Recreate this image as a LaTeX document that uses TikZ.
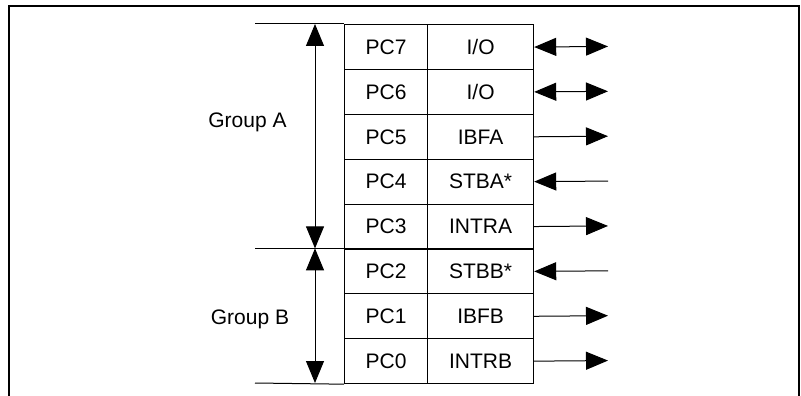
\documentclass[tikz,border=0pt]{standalone}
\usepackage{fontspec}
\setmainfont{Liberation Sans}
\usetikzlibrary{arrows.meta}
\begin{document}
\begin{tikzpicture}[x=1pt,y=-1pt,
  >={Triangle[length=22pt,width=18pt]},
  txt/.style={font=\fontsize{21}{24}\selectfont, inner sep=0pt},
  cell/.style={txt, draw, line width=1.2pt, minimum height=44.875pt, anchor=north west},
  namecell/.style={cell, minimum width=83pt},
  sigcell/.style={cell, minimum width=106pt},
  sig/.style={line width=1pt},
  dim/.style={line width=1pt}]
\useasboundingbox (0,0) rectangle (801,396);
% frame
\draw[line width=2pt] (8.7,396) -- (8.7,6) -- (799,6) -- (799,396);
% table
\node[namecell] (n7) at (344,24) {PC7};
\node[sigcell] (s7) at (427,24) {I/O};
\node[namecell] (n6) at (344,68.875) {PC6};
\node[sigcell] (s6) at (427,68.875) {I/O};
\node[namecell] (n5) at (344,113.75) {PC5};
\node[sigcell] (s5) at (427,113.75) {IBFA};
\node[namecell] (n4) at (344,158.625) {PC4};
\node[sigcell] (s4) at (427,158.625) {STBA*};
\node[namecell] (n3) at (344,203.5) {PC3};
\node[sigcell] (s3) at (427,203.5) {INTRA};
\node[namecell] (n2) at (344,248.375) {PC2};
\node[sigcell] (s2) at (427,248.375) {STBB*};
\node[namecell] (n1) at (344,293.25) {PC1};
\node[sigcell] (s1) at (427,293.25) {IBFB};
\node[namecell] (n0) at (344,338.125) {PC0};
\node[sigcell] (s0) at (427,338.125) {INTRB};
% right ends
\foreach \k in {0,...,7}{\coordinate (r\k) at (608, 383-44.875*\k-22.4375);}
\draw[sig,<->] (s7.east) -- (r7);
\draw[sig,<->] (s6.east) -- (r6);
\draw[sig,->] (s5.east) -- (r5);
\draw[sig,<-] (s4.east) -- (r4);
\draw[sig,->] (s3.east) -- (r3);
\draw[sig,<-] (s2.east) -- (r2);
\draw[sig,->] (s1.east) -- (r1);
\draw[sig,->] (s0.east) -- (r0);
% group extents
\coordinate (lt) at (255,24);
\coordinate (lm) at (255,248.375);
\coordinate (lb) at (255,383);
\draw[dim] (lt) -- (n7.north west);
\draw[dim] (lm) -- (n2.north west);
\draw[dim] (lb) -- (n0.south west);
\coordinate (at) at (315,24);
\coordinate (am) at (315,248.375);
\coordinate (ab) at (315,383);
\draw[dim,<->] (at) -- (am);
\draw[dim,<->] (am) -- (ab);
\node[txt] (ga) at (247.5,122) {Group A};
\node[txt] (gb) at (250,319.5) {Group B};
\end{tikzpicture}
\end{document}
